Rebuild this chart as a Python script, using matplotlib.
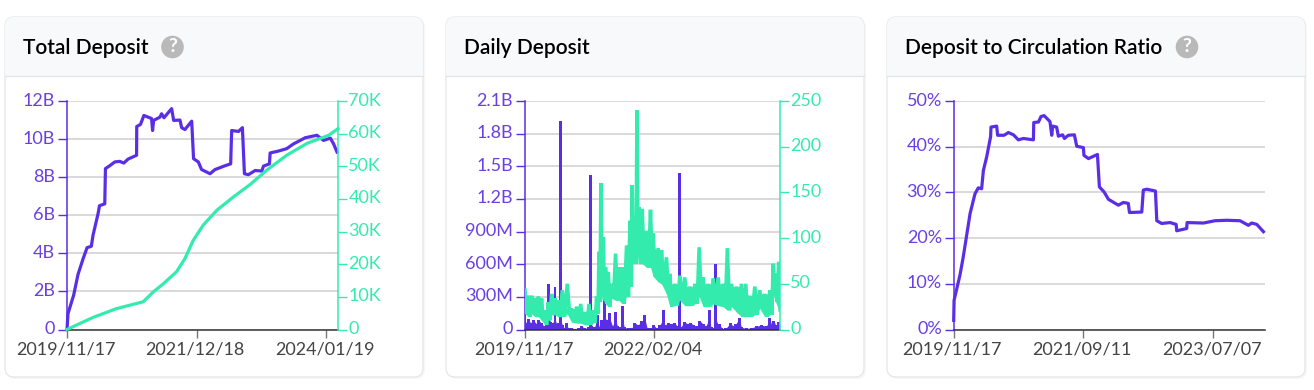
import matplotlib
matplotlib.use('Agg')
import matplotlib.pyplot as plt
from matplotlib.patches import FancyBboxPatch, Rectangle, Circle
from matplotlib.transforms import ScaledTranslation
import numpy as np

plt.rcParams['font.family'] = ['Lato', 'Noto Sans', 'DejaVu Sans']

PURPLE = '#5a2ee6'
PURPLE_TXT = '#6a40e4'
GREEN = '#34ebae'
GRID = '#cfcfcf'

# Total Deposit (days since 2019/11/17, billions)
total_days = [0, 6, 39, 65, 94, 118, 143, 153, 183, 191, 222, 226, 251, 281, 310, 334, 359, 409, 410, 432, 452, 497,
              503, 509, 546, 556, 570, 615, 627, 664, 674, 693, 733, 744, 772, 791, 841, 870, 929, 962, 968, 1008,
              1031, 1043, 1066, 1106, 1145, 1155, 1190, 1194, 1243, 1292, 1332, 1371, 1400, 1469, 1508, 1548, 1567, 1587]
total_deposit = [0, 0.84, 1.8, 2.9, 3.7, 4.3, 4.37, 4.95, 6.1, 6.5, 6.6, 8.45, 8.6, 8.8, 8.83, 8.74, 8.95, 9.15, 10.66,
                 10.77, 11.24, 11.08, 10.45, 10.98, 11.15, 11.33, 11.12, 11.6, 10.98, 11.0, 10.6, 10.5, 10.94, 8.97,
                 8.8, 8.4, 8.18, 8.4, 8.6, 8.7, 10.45, 10.4, 10.6, 8.18, 8.13, 8.35, 8.32, 8.58, 8.7, 9.27, 9.37, 9.5,
                 9.75, 9.93, 10.07, 10.2, 9.93, 10.05, 9.75, 9.32]
count_days = [0, 124, 153, 291, 448, 507, 566, 644, 693, 742, 801, 880, 978, 1076, 1174, 1292, 1410, 1538, 1593]
count_total = [0, 3, 3.7, 6.4, 8.5, 11.5, 14, 17.7, 21.7, 27.3, 32, 36.5, 40.6, 44.4, 48.8, 53.4, 57, 59.5, 61.5]

# Daily Deposit (days, millions)
daily_days = [0, 6, 21, 35, 52, 69, 86, 102, 119, 136, 150, 161, 173, 188, 198, 211, 223, 234, 246, 259, 271, 292, 313,
              334, 355, 376, 397, 409, 420, 436, 453, 466, 480, 501, 516, 532, 549, 566, 580, 597, 612, 622, 647, 668,
              689, 710, 729, 741, 752, 766, 787, 808, 825, 846, 867, 877, 898, 919, 940, 954, 967, 977, 998, 1017,
              1038, 1059, 1080, 1096, 1117, 1134, 1155, 1167, 1184, 1196, 1209, 1221, 1234, 1259, 1288, 1305, 1322,
              1343, 1357, 1388, 1420, 1451, 1482, 1514, 1535, 1547, 1560, 1572, 1589, 1597]
daily_deposit = [180, 60, 95, 60, 90, 55, 85, 60, 30, 70, 415, 70, 60, 390, 50, 60, 1920, 40, 15, 60, 10, 15, 5, 10, 30,
                 10, 20, 1420, 30, 20, 130, 20, 90, 570, 90, 150, 30, 160, 30, 20, 220, 20, 10, 10, 60, 40, 80, 30, 130,
                 10, 10, 40, 10, 40, 180, 40, 60, 50, 60, 30, 1436, 20, 70, 55, 60, 40, 30, 80, 50, 30, 180, 20, 10,
                 603, 50, 50, 10, 10, 60, 30, 50, 110, 20, 10, 15, 30, 40, 30, 110, 40, 80, 40, 70, 50]
tx_days = [0, 21, 42, 63, 84, 104, 125, 146, 167, 188, 209, 234, 265, 292, 324, 349, 376, 401, 428, 449, 464, 476, 491,
           505, 522, 543, 568, 589, 610, 637, 658, 672, 689, 702, 716, 735, 762, 787, 804, 835, 856, 887, 908, 940,
           971, 1002, 1034, 1065, 1092, 1117, 1148, 1180, 1211, 1242, 1269, 1295, 1326, 1357, 1384, 1409, 1441, 1472,
           1503, 1535, 1556, 1572, 1591]
tx_high = [43, 37, 37, 34, 36, 34, 21, 30, 39, 34, 32, 43, 50, 23, 25, 28, 19, 28, 21, 36, 85, 160, 101, 68, 63, 50, 83,
           68, 68, 92, 119, 158, 112, 240, 134, 132, 108, 131, 105, 89, 87, 79, 61, 50, 59, 57, 47, 50, 90, 57, 50, 56,
           57, 50, 89, 50, 47, 50, 50, 37, 47, 43, 39, 43, 72, 61, 74]
tx_low = [17, 14, 17, 14, 14, 10, 5, 10, 16, 16, 14, 14, 17, 8, 7, 7, 5, 5, 7, 17, 30, 39, 32, 28, 25, 34, 32, 32, 28, 36,
          47, 72, 72, 83, 72, 72, 68, 68, 58, 52, 50, 39, 25, 26, 32, 26, 26, 28, 36, 25, 25, 28, 26, 25, 21, 25, 19, 14,
          14, 14, 16, 23, 14, 16, 39, 30, 21]

# Deposit to Circulation Ratio (days, percent)
ratio_days = [0, 2, 32, 49, 84, 109, 126, 143, 152, 169, 189, 191, 220, 225, 258, 280, 306, 331, 357, 408, 410, 434, 447,
              463, 493, 502, 507, 527, 536, 558, 567, 587, 618, 630, 664, 667, 690, 736, 746, 770, 792, 843, 869, 894,
              900, 963, 971, 988, 1033, 1040, 1065, 1108, 1139, 1142, 1193, 1195, 1279, 1338, 1398, 1466, 1509, 1526,
              1552, 1586]
ratio = [2, 6.4, 11.9, 15.9, 25.4, 29.7, 31, 30.8, 34.8, 37.8, 42.2, 44.3, 44.5, 42.5, 42.5, 43.1, 42.6, 41.5, 41.8, 41.5,
         45.3, 45.4, 46.6, 46.8, 45.5, 42.5, 44.5, 44.3, 42.3, 42.6, 41.8, 42.5, 42.6, 40.1, 39.8, 38.1, 37.4, 38.3,
         31.2, 30.1, 28.5, 27.2, 27.8, 27.6, 25.6, 25.7, 30.5, 30.7, 30.3, 23.8, 23.2, 23.4, 23, 21.6, 22.1, 23.4, 23.3,
         23.8, 23.9, 23.8, 22.8, 23.3, 23, 21.4]

W, H = 1314, 390
fig = plt.figure(figsize=(W / 100, H / 100), dpi=100, facecolor='white')

bg = fig.add_axes([0, 0, 1, 1], zorder=0)
bg.set_xlim(0, W)
bg.set_ylim(H, 0)
bg.axis('off')


def card(x0, x1, title, help_x=None):
    y0, y1 = 17, 377
    bg.add_patch(FancyBboxPatch((x0 + 2, y0 + 2), x1 - x0, y1 - y0, boxstyle='round,pad=0,rounding_size=9',
                                fc='#f7f7f7', ec='none'))
    box = FancyBboxPatch((x0, y0), x1 - x0, y1 - y0, boxstyle='round,pad=0,rounding_size=9',
                         fc='white', ec='#e4e6e8', lw=0.9)
    bg.add_patch(box)
    head = Rectangle((x0, y0), x1 - x0, 59, fc='#f8f9fa', ec='none')
    bg.add_patch(head)
    head.set_clip_path(box)
    bg.plot([x0, x1], [76, 76], color='#e2e4e6', lw=0.9)
    bg.text(x0 + 18, 47.5, title, fontsize=15, color='#000000', fontweight='semibold', va='center', ha='left')
    if help_x is not None:
        bg.add_patch(Circle((help_x, 47), 11.3, fc='#b9b9b9', ec='none'))
        bg.text(help_x, 46.5, '?', fontsize=14, color='white', fontweight='bold', va='center', ha='center')


def nudge(labels, dx, dy):
    # move tick labels by a few pixels
    for lbl in labels:
        lbl.set_transform(lbl.get_transform() + ScaledTranslation(dx / 100, dy / 100, fig.dpi_scale_trans))


def panel(left, right, xmax, xticks, xlabels, yticks, ylabels):
    top, bottom = 101, 329.5
    ax = fig.add_axes([left / W, 1 - bottom / H, (right - left) / W, (bottom - top) / H], zorder=2)
    ax.patch.set_alpha(0)
    ax.set_xlim(0, xmax)
    ax.set_ylim(yticks[0], yticks[-1])
    ax.set_yticks(yticks, ylabels)
    ax.set_xticks(xticks, xlabels)
    ax.grid(True, axis='y', color=GRID, lw=1.1)
    ax.set_axisbelow(True)
    for s in ['top', 'right']:
        ax.spines[s].set_visible(False)
    ax.spines['left'].set_color(PURPLE)
    ax.spines['left'].set_linewidth(1.1)
    ax.spines['bottom'].set_color('#333333')
    ax.spines['bottom'].set_linewidth(1.1)
    ax.tick_params(axis='y', colors=PURPLE, labelcolor=PURPLE_TXT, labelsize=13, length=6.5, width=1, pad=2)
    ax.tick_params(axis='x', color='#777777', labelcolor='#444444', labelsize=13, length=5.5, width=1, pad=3)
    nudge(ax.get_yticklabels(), 0, 2)
    nudge(ax.get_xticklabels(), -1.5, 0)
    return ax


def right_axis(ax, yticks, ylabels):
    ax2 = ax.twinx()
    ax2.set_zorder(3)
    ax2.set_ylim(yticks[0], yticks[-1])
    ax2.set_yticks(yticks, ylabels)
    for s in ['top', 'left', 'bottom']:
        ax2.spines[s].set_visible(False)
    ax2.spines['right'].set_color(GREEN)
    ax2.spines['right'].set_linewidth(1.1)
    ax2.tick_params(axis='y', colors=GREEN, labelcolor=GREEN, labelsize=13, length=6.5, width=1, pad=1)
    nudge(ax2.get_yticklabels(), 0, 2)
    return ax2


card(5, 423, 'Total Deposit', 172.5)
card(446, 864, 'Daily Deposit')
card(887, 1305, 'Deposit to Circulation Ratio', 1187)

ax = panel(67, 338, 1593, [0, 762, 1524], ['2019/11/17', '2021/12/18', '2024/01/19'],
           [0, 2, 4, 6, 8, 10, 12], ['0', '2B', '4B', '6B', '8B', '10B', '12B'])
ax.plot(total_days, total_deposit, color=PURPLE, lw=2.3, clip_on=False)
ax2 = right_axis(ax, [0, 10, 20, 30, 40, 50, 60, 70], ['0', '10K', '20K', '30K', '40K', '50K', '60K', '70K'])
ax2.plot(count_days, count_total, color=GREEN, lw=2.3, clip_on=False)

ax = panel(525, 780, 1599, [0, 810], ['2019/11/17', '2022/02/04'],
           [0, 300, 600, 900, 1200, 1500, 1800, 2100], ['0', '300M', '600M', '900M', '1.2B', '1.5B', '1.8B', '2.1B'])
ax.bar(daily_days, daily_deposit, width=18, color=PURPLE)
ax.fill_between(daily_days, 0, np.minimum(daily_deposit, 100), color=PURPLE, lw=0)
ax2 = right_axis(ax, [0, 50, 100, 150, 200, 250], ['0', '50', '100', '150', '200', '250'])
# band of daily counts: each step goes from the high reading to the low one
tx_x = np.column_stack([tx_days, np.array(tx_days) + np.gradient(tx_days) / 2]).ravel()
tx_y = np.column_stack([tx_high, tx_low]).ravel()
ax2.plot(tx_x, tx_y, color=GREEN, lw=2.6, solid_joinstyle='miter')
# solid core of the band, without the single-day peaks
high = np.array(tx_high)
core = np.minimum(np.minimum(high, np.roll(high, 1)), np.roll(high, -1))
ax2.fill_between(tx_days, tx_low, np.maximum(core, tx_low), color=GREEN, lw=0)
ax2.set_xlim(0, 1599)

ax = panel(953.7, 1265, 1594, [0, 664, 1328], ['2019/11/17', '2021/09/11', '2023/07/07'],
           [0, 10, 20, 30, 40, 50], ['0%', '10%', '20%', '30%', '40%', '50%'])
ax.plot(ratio_days, ratio, color=PURPLE, lw=2.3, clip_on=False)

fig.savefig('out.png', dpi=100)
